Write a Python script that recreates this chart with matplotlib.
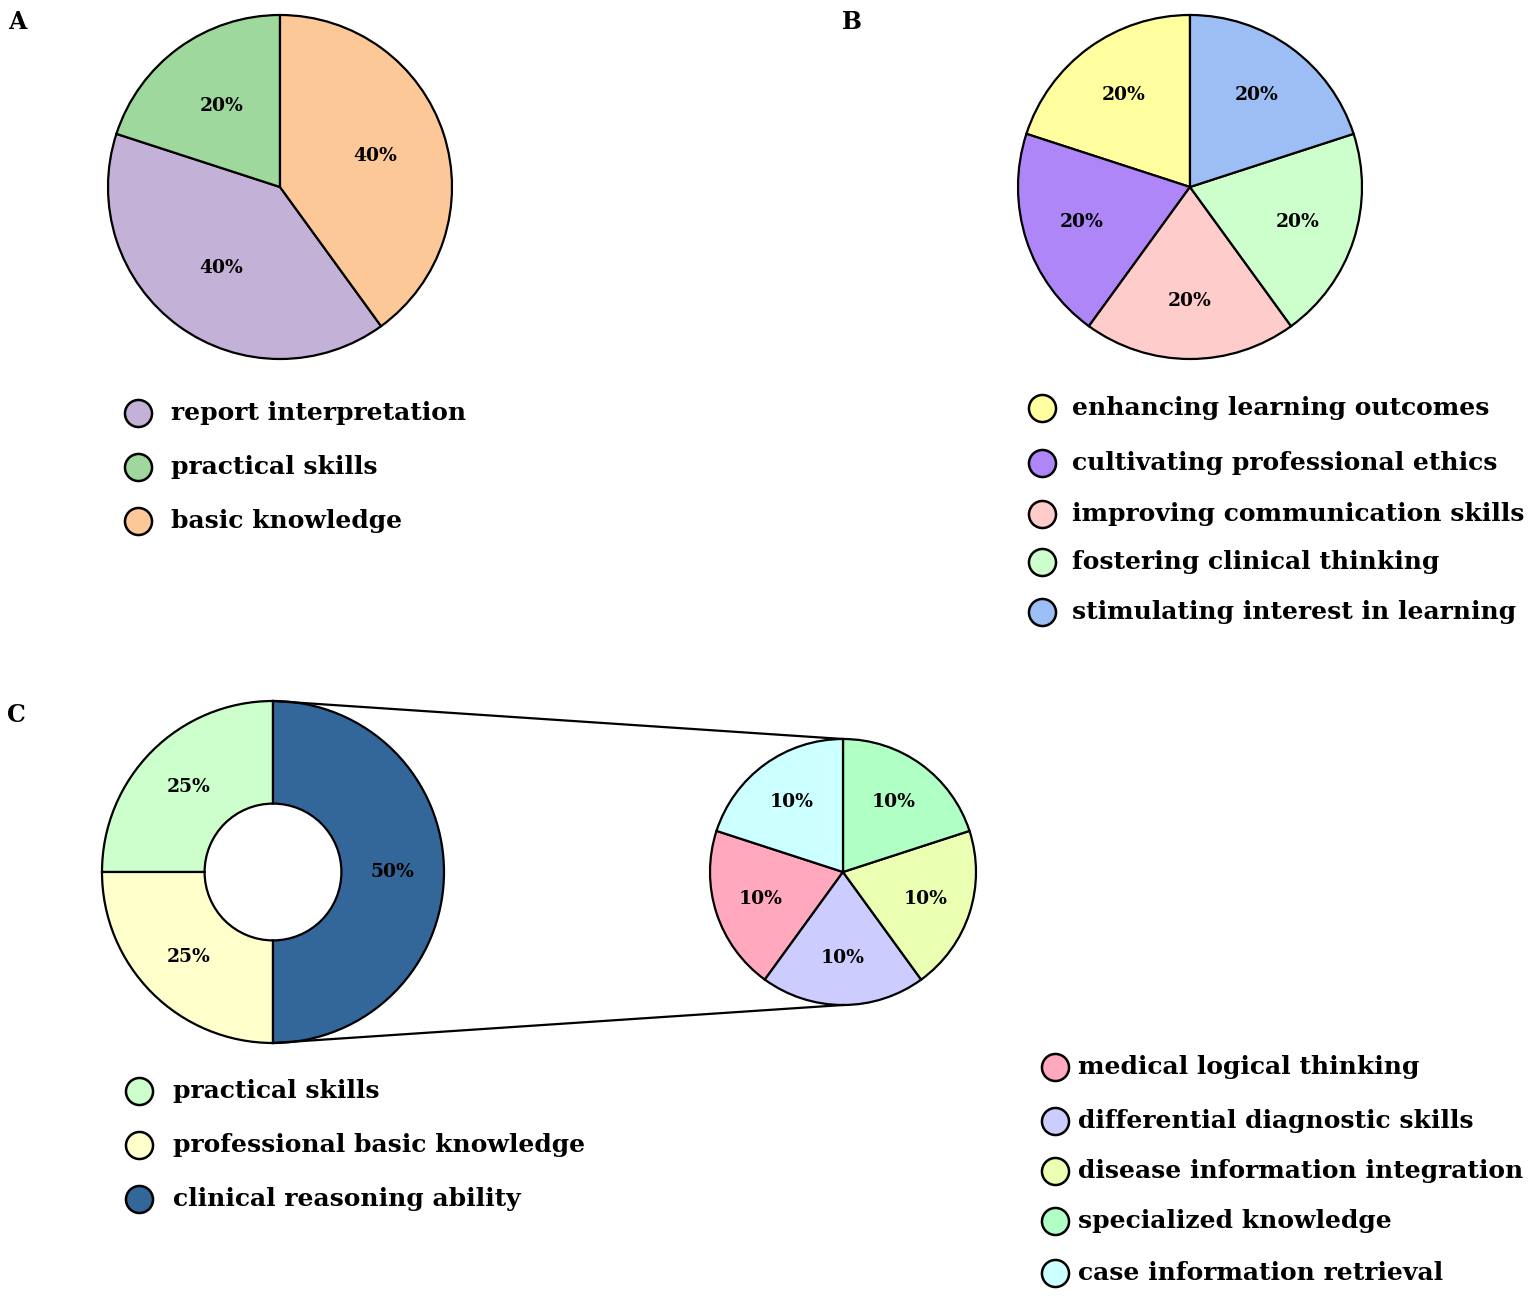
import matplotlib
matplotlib.use('Agg')
import matplotlib.pyplot as plt

plt.rcParams['font.family'] = ['DejaVu Serif']
plt.rcParams['font.weight'] = 'bold'

# ---- data ----
a_labels = ['report interpretation', 'practical skills', 'basic knowledge']
a_values = [40, 20, 40]
a_colors = ['#C3B1D7', '#9ED89D', '#FDC897']

b_labels = ['enhancing learning outcomes', 'cultivating professional ethics',
            'improving communication skills', 'fostering clinical thinking',
            'stimulating interest in learning']
b_values = [20, 20, 20, 20, 20]
b_colors = ['#FFFFA0', '#AE86F8', '#FFCCCC', '#CCFFCC', '#9DBEF4']

c_labels = ['practical skills', 'professional basic knowledge', 'clinical reasoning ability']
c_values = [25, 25, 50]
c_colors = ['#CCFFCC', '#FFFFCC', '#336699']

d_labels = ['medical logical thinking', 'differential diagnostic skills',
            'disease information integration', 'specialized knowledge',
            'case information retrieval']
d_values = [10, 10, 10, 10, 10]
d_colors = ['#FFA8BE', '#CCCCFF', '#EBFFB2', '#B0FFC4', '#CCFFFF']

W, H = 1535, 1298
fig = plt.figure(figsize=(W / 100, H / 100), dpi=100)
ax = fig.add_axes([0, 0, 1, 1])

def Y(y):
    return H - y

edge = dict(edgecolor='black', linewidth=1.6)
pct_font = dict(fontsize=13.5, fontweight='bold', color='black')

# A
ax.pie(a_values, colors=a_colors, startangle=306, counterclock=False,
       center=(280, Y(187)), radius=172, wedgeprops=edge,
       autopct='%d%%', pctdistance=0.58, textprops=pct_font)

# B
ax.pie(b_values, colors=b_colors, startangle=90, counterclock=True,
       center=(1190, Y(187)), radius=172, wedgeprops=edge,
       autopct='%d%%', pctdistance=0.66, textprops=pct_font)

# C donut
ax.pie(c_values, colors=c_colors, startangle=90, counterclock=True,
       center=(273, Y(872)), radius=171,
       wedgeprops=dict(width=171 * 0.6, edgecolor='black', linewidth=1.6),
       autopct='%d%%', pctdistance=0.7, textprops=pct_font)

# C zoomed pie
tot = sum(d_values)
ax.pie(d_values, colors=d_colors, startangle=162, counterclock=True,
       center=(843, Y(872)), radius=133, wedgeprops=edge,
       autopct=lambda p: '%d%%' % round(p * tot / 100), pctdistance=0.65,
       textprops=pct_font)

# connection lines
ax.plot([273, 843], [Y(701), Y(739)], color='black', lw=1.6)
ax.plot([273, 843], [Y(1043), Y(1005)], color='black', lw=1.6)

# legends
def legend(x, ys, labels, colors, tx):
    for y, lab, col in zip(ys, labels, colors):
        ax.scatter(x, Y(y), s=380, color=col, edgecolors='black', linewidths=1.8, zorder=3)
        ax.text(tx, Y(y), lab, fontsize=18, fontweight='bold', va='center', ha='left')

legend(138, [413, 467, 521], a_labels, a_colors, 171)
legend(1042, [408, 463, 514, 562, 612], b_labels, b_colors, 1072)
legend(139, [1091, 1145, 1199], c_labels, c_colors, 173)
legend(1055, [1067, 1121, 1171, 1221, 1273], d_labels, d_colors, 1078)

# panel letters
for letter, x, y in [('A', 8, 22), ('B', 842, 22), ('C', 7, 715)]:
    ax.text(x, Y(y), letter, fontsize=17, fontweight='bold', va='center', ha='left')

ax.set_xlim(0, W)
ax.set_ylim(0, H)
ax.set_aspect('equal')
ax.axis('off')

fig.savefig('out.png', dpi=100)
